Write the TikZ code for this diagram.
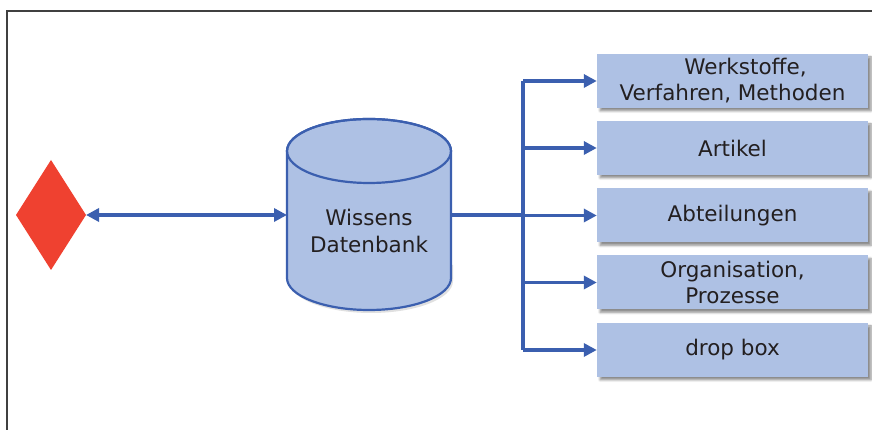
\documentclass[tikz,border=0pt]{standalone}
\usepackage{fontspec}
\setmainfont{DejaVu Sans}
\usetikzlibrary{arrows.meta,shadows.blur,positioning}
\definecolor{linkblue}{RGB}{59,95,175}
\definecolor{boxfill}{RGB}{174,193,228}
\definecolor{redmark}{RGB}{239,65,48}
\definecolor{txt}{RGB}{35,31,32}
\tikzset{
  x=1pt,y=1pt,
  frame/.style={line width=1.6pt,draw=black!75},
  link/.style={draw=linkblue,line width=3.4pt},
  tip/.style={-{Triangle[length=13pt,width=13pt]}},
  infobox/.style={rectangle,fill=boxfill,minimum width=271pt,minimum height=54pt,
    inner sep=0pt,align=center,text=txt,font=\fontsize{21.5}{26}\selectfont,
    blur shadow={shadow xshift=3pt,shadow yshift=-3pt,shadow blur steps=6,shadow opacity=45}},
}
\begin{document}
\begin{tikzpicture}
\useasboundingbox (0,0) rectangle (872,430);
% frame on the left and top
\draw[frame] (7,0) -- (7,419) -- (872,419);

% red decision marker
\fill[redmark] (16,215) -- (51,270) -- (86,215) -- (51,160) -- cycle;
\coordinate (mark) at (86,215);

% database cylinder with a soft shadow below
\fill[black!40,opacity=0.3] (289,149) arc (180:360:82 and 32) -- (453,165) -- (289,165) -- cycle;
\filldraw[fill=boxfill,draw=linkblue,line width=2.2pt]
  (287,279) -- (287,152) arc (180:360:82 and 32) -- (451,279) arc (0:180:82 and 32) -- cycle;
\draw[draw=linkblue,line width=2.2pt] (369,279) ellipse (82 and 32);
\node[rectangle,minimum width=164pt,minimum height=100pt,inner sep=0pt,align=center,
  text=txt,font=\fontsize{21.5}{27}\selectfont] (db) at (369,199) {Wissens\\Datenbank};
\coordinate (dbw) at (287,215);
\coordinate (dbe) at (451,215);

% target boxes
\node[infobox] (b1) at (732.5,349) {\hspace*{26pt}Werkstoffe,\\Verfahren, Methoden};
\node[infobox] (b2) at (732.5,282) {Artikel};
\node[infobox] (b3) at (732.5,214.5) {Abteilungen};
\node[infobox] (b4) at (732.5,147.5) {Organisation,\\Prozesse};
\node[infobox] (b5) at (732.5,80) {drop box};

% connectors
\draw[link,{Triangle[length=13pt,width=13pt]}-{Triangle[length=13pt,width=13pt]}] (mark) -- (dbw);
\coordinate (trunk) at (523,215);
\draw[link] (dbe) -- (trunk);
\draw[link] (523,349) -- (523,80);
\foreach \b in {b1,b2,b3,b4,b5}
  \draw[link,tip] (trunk |- \b.west) -- (\b.west);
\end{tikzpicture}
\end{document}
